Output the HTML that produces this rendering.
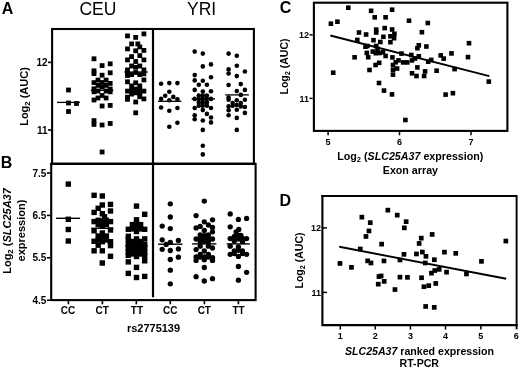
<!DOCTYPE html>
<html><head><meta charset="utf-8"><title>Figure</title>
<style>html,body{margin:0;padding:0;background:#fff}svg{display:block}</style></head>
<body>
<svg width="520" height="369" viewBox="0 0 520 369" font-family='"Liberation Sans", Arial, sans-serif' fill="#000">
<rect width="520" height="369" fill="#fff"/>
<g stroke="#000" fill="none" stroke-linecap="butt">
<rect x="52.1" y="29" width="201.8" height="134.9" stroke-width="2.1"/>
<rect x="51.2" y="163.9" width="204.4" height="136.2" stroke-width="2.1"/>
<line x1="50.2" y1="163.9" x2="255.8" y2="163.9" stroke-width="2.4"/>
<line x1="153" y1="29" x2="153" y2="297.3" stroke-width="2.2"/>
<line x1="48" y1="62.4" x2="51.2" y2="62.4" stroke-width="1.6"/>
<line x1="48" y1="130" x2="51.2" y2="130" stroke-width="1.6"/>
<line x1="46.9" y1="173" x2="50.3" y2="173" stroke-width="1.6"/>
<line x1="46.9" y1="215.4" x2="50.3" y2="215.4" stroke-width="1.6"/>
<line x1="46.9" y1="257.8" x2="50.3" y2="257.8" stroke-width="1.6"/>
<line x1="46.9" y1="300.2" x2="50.3" y2="300.2" stroke-width="1.6"/>
<line x1="68.4" y1="300.5" x2="68.4" y2="304.3" stroke-width="1.6"/>
<line x1="102.4" y1="300.5" x2="102.4" y2="304.3" stroke-width="1.6"/>
<line x1="136.3" y1="300.5" x2="136.3" y2="304.3" stroke-width="1.6"/>
<line x1="170.3" y1="300.5" x2="170.3" y2="304.3" stroke-width="1.6"/>
<line x1="204.4" y1="300.5" x2="204.4" y2="304.3" stroke-width="1.6"/>
<line x1="238.4" y1="300.5" x2="238.4" y2="304.3" stroke-width="1.6"/>
</g>
<g>
<line x1="57.0" y1="102.4" x2="80.0" y2="102.4" stroke="#000" stroke-width="1.3"/>
<line x1="90.8" y1="90.3" x2="113.4" y2="90.3" stroke="#000" stroke-width="1.3"/>
<line x1="124.3" y1="72.0" x2="147.8" y2="72.0" stroke="#000" stroke-width="1.3"/>
<line x1="158.1" y1="101.3" x2="181.4" y2="101.3" stroke="#000" stroke-width="1.3"/>
<line x1="191.6" y1="98.9" x2="215.0" y2="98.9" stroke="#000" stroke-width="1.3"/>
<line x1="225.2" y1="94.9" x2="248.9" y2="94.9" stroke="#000" stroke-width="1.3"/>
<line x1="56.1" y1="218.3" x2="80.1" y2="218.3" stroke="#000" stroke-width="1.4"/>
<line x1="91.2" y1="228.3" x2="113.4" y2="228.3" stroke="#000" stroke-width="1.4"/>
<line x1="125.3" y1="245.5" x2="147.7" y2="245.5" stroke="#000" stroke-width="1.4"/>
<line x1="158.1" y1="244.2" x2="182.5" y2="244.2" stroke="#000" stroke-width="1.4"/>
<line x1="192.1" y1="243.9" x2="216.4" y2="243.9" stroke="#000" stroke-width="1.4"/>
<line x1="226.6" y1="243.9" x2="249.8" y2="243.9" stroke="#000" stroke-width="1.4"/>
</g>
<g>
<rect x="66.1" y="87.6" width="4.8" height="4.8"/>
<rect x="66.1" y="100.6" width="4.8" height="4.8"/>
<rect x="74.1" y="101.1" width="4.8" height="4.8"/>
<rect x="66.1" y="109.1" width="4.8" height="4.8"/>
<rect x="91.6" y="56.4" width="4.8" height="4.8"/>
<rect x="91.6" y="68.4" width="4.8" height="4.8"/>
<rect x="91.6" y="71.2" width="4.8" height="4.8"/>
<rect x="91.6" y="80.2" width="4.8" height="4.8"/>
<rect x="91.6" y="86.4" width="4.8" height="4.8"/>
<rect x="91.6" y="89.4" width="4.8" height="4.8"/>
<rect x="91.6" y="97.6" width="4.8" height="4.8"/>
<rect x="91.6" y="118.2" width="4.8" height="4.8"/>
<rect x="91.6" y="122.0" width="4.8" height="4.8"/>
<rect x="95.6" y="77.7" width="4.8" height="4.8"/>
<rect x="95.6" y="83.0" width="4.8" height="4.8"/>
<rect x="95.6" y="88.6" width="4.8" height="4.8"/>
<rect x="95.6" y="95.6" width="4.8" height="4.8"/>
<rect x="99.7" y="63.2" width="4.8" height="4.8"/>
<rect x="99.7" y="72.8" width="4.8" height="4.8"/>
<rect x="99.7" y="80.1" width="4.8" height="4.8"/>
<rect x="99.7" y="84.6" width="4.8" height="4.8"/>
<rect x="99.7" y="93.1" width="4.8" height="4.8"/>
<rect x="99.7" y="103.6" width="4.8" height="4.8"/>
<rect x="99.7" y="122.6" width="4.8" height="4.8"/>
<rect x="99.7" y="149.6" width="4.8" height="4.8"/>
<rect x="103.7" y="77.7" width="4.8" height="4.8"/>
<rect x="103.7" y="83.0" width="4.8" height="4.8"/>
<rect x="103.7" y="88.6" width="4.8" height="4.8"/>
<rect x="103.7" y="95.6" width="4.8" height="4.8"/>
<rect x="107.8" y="61.4" width="4.8" height="4.8"/>
<rect x="107.8" y="70.4" width="4.8" height="4.8"/>
<rect x="107.8" y="81.0" width="4.8" height="4.8"/>
<rect x="107.8" y="86.6" width="4.8" height="4.8"/>
<rect x="107.8" y="89.4" width="4.8" height="4.8"/>
<rect x="107.8" y="103.0" width="4.8" height="4.8"/>
<rect x="107.8" y="121.1" width="4.8" height="4.8"/>
<rect x="125.1" y="33.5" width="4.8" height="4.8"/>
<rect x="125.1" y="46.5" width="4.8" height="4.8"/>
<rect x="125.1" y="57.5" width="4.8" height="4.8"/>
<rect x="125.1" y="67.5" width="4.8" height="4.8"/>
<rect x="125.1" y="70.5" width="4.8" height="4.8"/>
<rect x="125.1" y="73.1" width="4.8" height="4.8"/>
<rect x="125.1" y="79.4" width="4.8" height="4.8"/>
<rect x="125.1" y="88.7" width="4.8" height="4.8"/>
<rect x="125.1" y="94.8" width="4.8" height="4.8"/>
<rect x="125.1" y="96.9" width="4.8" height="4.8"/>
<rect x="129.2" y="41.5" width="4.8" height="4.8"/>
<rect x="129.2" y="54.2" width="4.8" height="4.8"/>
<rect x="129.2" y="63.6" width="4.8" height="4.8"/>
<rect x="129.2" y="72.2" width="4.8" height="4.8"/>
<rect x="129.2" y="83.5" width="4.8" height="4.8"/>
<rect x="129.2" y="87.6" width="4.8" height="4.8"/>
<rect x="129.2" y="91.7" width="4.8" height="4.8"/>
<rect x="133.3" y="35.0" width="4.8" height="4.8"/>
<rect x="133.3" y="48.4" width="4.8" height="4.8"/>
<rect x="133.3" y="59.1" width="4.8" height="4.8"/>
<rect x="133.3" y="64.9" width="4.8" height="4.8"/>
<rect x="133.3" y="70.1" width="4.8" height="4.8"/>
<rect x="133.3" y="80.4" width="4.8" height="4.8"/>
<rect x="133.3" y="86.6" width="4.8" height="4.8"/>
<rect x="133.3" y="90.4" width="4.8" height="4.8"/>
<rect x="133.3" y="99.6" width="4.8" height="4.8"/>
<rect x="133.3" y="110.4" width="4.8" height="4.8"/>
<rect x="137.4" y="44.5" width="4.8" height="4.8"/>
<rect x="137.4" y="53.2" width="4.8" height="4.8"/>
<rect x="137.4" y="63.6" width="4.8" height="4.8"/>
<rect x="137.4" y="72.2" width="4.8" height="4.8"/>
<rect x="137.4" y="83.5" width="4.8" height="4.8"/>
<rect x="137.4" y="87.6" width="4.8" height="4.8"/>
<rect x="137.4" y="91.7" width="4.8" height="4.8"/>
<rect x="137.4" y="94.3" width="4.8" height="4.8"/>
<rect x="141.5" y="31.5" width="4.8" height="4.8"/>
<rect x="141.5" y="48.0" width="4.8" height="4.8"/>
<rect x="141.5" y="57.5" width="4.8" height="4.8"/>
<rect x="141.5" y="67.5" width="4.8" height="4.8"/>
<rect x="141.5" y="71.4" width="4.8" height="4.8"/>
<rect x="141.5" y="77.5" width="4.8" height="4.8"/>
<rect x="141.5" y="88.7" width="4.8" height="4.8"/>
<rect x="141.5" y="96.5" width="4.8" height="4.8"/>
<rect x="135.4" y="41.5" width="4.8" height="4.8"/>
<circle cx="161.1" cy="83.7" r="2.3"/>
<circle cx="169.3" cy="83.1" r="2.3"/>
<circle cx="177.4" cy="83.1" r="2.3"/>
<circle cx="169.3" cy="91.8" r="2.3"/>
<circle cx="165.2" cy="95.8" r="2.3"/>
<circle cx="173.3" cy="96.9" r="2.3"/>
<circle cx="161.1" cy="98.9" r="2.3"/>
<circle cx="177.4" cy="99.3" r="2.3"/>
<circle cx="169.3" cy="100.3" r="2.3"/>
<circle cx="161.1" cy="107.5" r="2.3"/>
<circle cx="177.4" cy="108.0" r="2.3"/>
<circle cx="169.3" cy="110.7" r="2.3"/>
<circle cx="177.4" cy="122.7" r="2.3"/>
<circle cx="169.3" cy="126.8" r="2.3"/>
<circle cx="194.7" cy="51.6" r="2.3"/>
<circle cx="194.7" cy="75.1" r="2.3"/>
<circle cx="194.7" cy="80.4" r="2.3"/>
<circle cx="194.7" cy="89.9" r="2.3"/>
<circle cx="194.7" cy="98.9" r="2.3"/>
<circle cx="194.7" cy="108.0" r="2.3"/>
<circle cx="194.7" cy="115.2" r="2.3"/>
<circle cx="194.7" cy="119.3" r="2.3"/>
<circle cx="198.8" cy="84.8" r="2.3"/>
<circle cx="198.8" cy="95.6" r="2.3"/>
<circle cx="198.8" cy="98.9" r="2.3"/>
<circle cx="198.8" cy="102.4" r="2.3"/>
<circle cx="198.8" cy="105.7" r="2.3"/>
<circle cx="202.8" cy="53.6" r="2.3"/>
<circle cx="202.8" cy="66.4" r="2.3"/>
<circle cx="202.8" cy="80.7" r="2.3"/>
<circle cx="202.8" cy="91.5" r="2.3"/>
<circle cx="202.8" cy="95.6" r="2.3"/>
<circle cx="202.8" cy="98.9" r="2.3"/>
<circle cx="202.8" cy="102.4" r="2.3"/>
<circle cx="202.8" cy="105.7" r="2.3"/>
<circle cx="202.8" cy="110.1" r="2.3"/>
<circle cx="202.8" cy="120.5" r="2.3"/>
<circle cx="202.8" cy="129.9" r="2.3"/>
<circle cx="202.8" cy="145.7" r="2.3"/>
<circle cx="202.8" cy="154.4" r="2.3"/>
<circle cx="206.9" cy="84.8" r="2.3"/>
<circle cx="206.9" cy="95.6" r="2.3"/>
<circle cx="206.9" cy="98.9" r="2.3"/>
<circle cx="206.9" cy="102.4" r="2.3"/>
<circle cx="206.9" cy="105.7" r="2.3"/>
<circle cx="206.9" cy="113.9" r="2.3"/>
<circle cx="211.0" cy="64.4" r="2.3"/>
<circle cx="211.0" cy="77.2" r="2.3"/>
<circle cx="211.0" cy="91.3" r="2.3"/>
<circle cx="211.0" cy="98.9" r="2.3"/>
<circle cx="211.0" cy="108.0" r="2.3"/>
<circle cx="211.0" cy="117.5" r="2.3"/>
<circle cx="211.0" cy="122.4" r="2.3"/>
<circle cx="228.6" cy="53.6" r="2.3"/>
<circle cx="228.6" cy="69.4" r="2.3"/>
<circle cx="228.6" cy="73.5" r="2.3"/>
<circle cx="228.6" cy="85.0" r="2.3"/>
<circle cx="228.6" cy="97.6" r="2.3"/>
<circle cx="228.6" cy="99.7" r="2.3"/>
<circle cx="228.6" cy="106.4" r="2.3"/>
<circle cx="228.6" cy="110.2" r="2.3"/>
<circle cx="228.6" cy="115.2" r="2.3"/>
<circle cx="232.7" cy="103.0" r="2.3"/>
<circle cx="232.7" cy="105.7" r="2.3"/>
<circle cx="236.8" cy="55.8" r="2.3"/>
<circle cx="236.8" cy="65.8" r="2.3"/>
<circle cx="236.8" cy="76.1" r="2.3"/>
<circle cx="236.8" cy="91.1" r="2.3"/>
<circle cx="236.8" cy="100.3" r="2.3"/>
<circle cx="236.8" cy="105.0" r="2.3"/>
<circle cx="236.8" cy="109.8" r="2.3"/>
<circle cx="236.8" cy="117.9" r="2.3"/>
<circle cx="236.8" cy="129.9" r="2.3"/>
<circle cx="240.8" cy="84.1" r="2.3"/>
<circle cx="240.8" cy="94.9" r="2.3"/>
<circle cx="240.8" cy="103.0" r="2.3"/>
<circle cx="240.8" cy="106.4" r="2.3"/>
<circle cx="244.9" cy="71.5" r="2.3"/>
<circle cx="244.9" cy="89.9" r="2.3"/>
<circle cx="244.9" cy="99.7" r="2.3"/>
<circle cx="244.9" cy="107.0" r="2.3"/>
<circle cx="244.9" cy="112.9" r="2.3"/>
<rect x="65.6" y="181.4" width="5.4" height="5.4"/>
<rect x="65.6" y="216.6" width="5.4" height="5.4"/>
<rect x="65.6" y="226.8" width="5.4" height="5.4"/>
<rect x="65.6" y="238.3" width="5.4" height="5.4"/>
<rect x="91.4" y="192.6" width="5.4" height="5.4"/>
<rect x="91.4" y="209.7" width="5.4" height="5.4"/>
<rect x="91.4" y="218.9" width="5.4" height="5.4"/>
<rect x="91.4" y="228.1" width="5.4" height="5.4"/>
<rect x="91.4" y="238.6" width="5.4" height="5.4"/>
<rect x="91.4" y="248.1" width="5.4" height="5.4"/>
<rect x="95.5" y="205.6" width="5.4" height="5.4"/>
<rect x="95.5" y="217.6" width="5.4" height="5.4"/>
<rect x="95.5" y="221.9" width="5.4" height="5.4"/>
<rect x="95.5" y="233.3" width="5.4" height="5.4"/>
<rect x="95.5" y="237.3" width="5.4" height="5.4"/>
<rect x="95.5" y="242.5" width="5.4" height="5.4"/>
<rect x="99.6" y="193.3" width="5.4" height="5.4"/>
<rect x="99.6" y="202.3" width="5.4" height="5.4"/>
<rect x="99.6" y="211.0" width="5.4" height="5.4"/>
<rect x="99.6" y="218.3" width="5.4" height="5.4"/>
<rect x="99.6" y="222.8" width="5.4" height="5.4"/>
<rect x="99.6" y="230.3" width="5.4" height="5.4"/>
<rect x="99.6" y="235.1" width="5.4" height="5.4"/>
<rect x="99.6" y="239.0" width="5.4" height="5.4"/>
<rect x="99.6" y="248.1" width="5.4" height="5.4"/>
<rect x="99.6" y="260.3" width="5.4" height="5.4"/>
<rect x="103.7" y="217.6" width="5.4" height="5.4"/>
<rect x="103.7" y="221.9" width="5.4" height="5.4"/>
<rect x="103.7" y="233.3" width="5.4" height="5.4"/>
<rect x="103.7" y="237.3" width="5.4" height="5.4"/>
<rect x="107.8" y="201.7" width="5.4" height="5.4"/>
<rect x="107.8" y="208.3" width="5.4" height="5.4"/>
<rect x="107.8" y="218.9" width="5.4" height="5.4"/>
<rect x="107.8" y="227.3" width="5.4" height="5.4"/>
<rect x="107.8" y="239.0" width="5.4" height="5.4"/>
<rect x="107.8" y="242.9" width="5.4" height="5.4"/>
<rect x="107.8" y="253.6" width="5.4" height="5.4"/>
<rect x="101.8" y="214.1" width="5.4" height="5.4"/>
<rect x="125.6" y="226.6" width="5.4" height="5.4"/>
<rect x="125.6" y="233.6" width="5.4" height="5.4"/>
<rect x="125.6" y="237.1" width="5.4" height="5.4"/>
<rect x="125.6" y="241.8" width="5.4" height="5.4"/>
<rect x="125.6" y="245.8" width="5.4" height="5.4"/>
<rect x="125.6" y="249.3" width="5.4" height="5.4"/>
<rect x="125.6" y="252.6" width="5.4" height="5.4"/>
<rect x="125.6" y="259.2" width="5.4" height="5.4"/>
<rect x="125.6" y="270.7" width="5.4" height="5.4"/>
<rect x="129.7" y="221.9" width="5.4" height="5.4"/>
<rect x="129.7" y="226.2" width="5.4" height="5.4"/>
<rect x="129.7" y="238.8" width="5.4" height="5.4"/>
<rect x="129.7" y="243.3" width="5.4" height="5.4"/>
<rect x="129.7" y="247.3" width="5.4" height="5.4"/>
<rect x="129.7" y="251.3" width="5.4" height="5.4"/>
<rect x="133.8" y="203.4" width="5.4" height="5.4"/>
<rect x="133.8" y="217.1" width="5.4" height="5.4"/>
<rect x="133.8" y="220.6" width="5.4" height="5.4"/>
<rect x="133.8" y="224.9" width="5.4" height="5.4"/>
<rect x="133.8" y="228.8" width="5.4" height="5.4"/>
<rect x="133.8" y="236.2" width="5.4" height="5.4"/>
<rect x="133.8" y="240.8" width="5.4" height="5.4"/>
<rect x="133.8" y="245.3" width="5.4" height="5.4"/>
<rect x="133.8" y="249.3" width="5.4" height="5.4"/>
<rect x="133.8" y="253.8" width="5.4" height="5.4"/>
<rect x="133.8" y="264.7" width="5.4" height="5.4"/>
<rect x="133.8" y="274.8" width="5.4" height="5.4"/>
<rect x="137.9" y="221.9" width="5.4" height="5.4"/>
<rect x="137.9" y="226.2" width="5.4" height="5.4"/>
<rect x="137.9" y="238.8" width="5.4" height="5.4"/>
<rect x="137.9" y="243.3" width="5.4" height="5.4"/>
<rect x="137.9" y="247.3" width="5.4" height="5.4"/>
<rect x="137.9" y="251.3" width="5.4" height="5.4"/>
<rect x="142.0" y="211.6" width="5.4" height="5.4"/>
<rect x="142.0" y="226.6" width="5.4" height="5.4"/>
<rect x="142.0" y="236.2" width="5.4" height="5.4"/>
<rect x="142.0" y="241.8" width="5.4" height="5.4"/>
<rect x="142.0" y="245.8" width="5.4" height="5.4"/>
<rect x="142.0" y="249.8" width="5.4" height="5.4"/>
<rect x="142.0" y="253.3" width="5.4" height="5.4"/>
<rect x="142.0" y="258.1" width="5.4" height="5.4"/>
<rect x="142.0" y="273.7" width="5.4" height="5.4"/>
<circle cx="170.3" cy="203.8" r="2.65"/>
<circle cx="170.3" cy="217.0" r="2.65"/>
<circle cx="162.2" cy="226.1" r="2.65"/>
<circle cx="170.3" cy="228.6" r="2.65"/>
<circle cx="162.2" cy="239.8" r="2.65"/>
<circle cx="178.4" cy="240.4" r="2.65"/>
<circle cx="170.3" cy="242.4" r="2.65"/>
<circle cx="166.2" cy="244.4" r="2.65"/>
<circle cx="162.2" cy="249.3" r="2.65"/>
<circle cx="178.4" cy="248.9" r="2.65"/>
<circle cx="170.3" cy="250.5" r="2.65"/>
<circle cx="178.4" cy="257.2" r="2.65"/>
<circle cx="170.3" cy="259.5" r="2.65"/>
<circle cx="170.3" cy="270.2" r="2.65"/>
<circle cx="170.3" cy="283.8" r="2.65"/>
<circle cx="196.1" cy="215.6" r="2.65"/>
<circle cx="196.1" cy="227.9" r="2.65"/>
<circle cx="196.1" cy="239.0" r="2.65"/>
<circle cx="196.1" cy="249.6" r="2.65"/>
<circle cx="196.1" cy="257.0" r="2.65"/>
<circle cx="196.1" cy="260.4" r="2.65"/>
<circle cx="196.1" cy="276.7" r="2.65"/>
<circle cx="200.2" cy="226.4" r="2.65"/>
<circle cx="200.2" cy="234.9" r="2.65"/>
<circle cx="200.2" cy="238.5" r="2.65"/>
<circle cx="200.2" cy="241.5" r="2.65"/>
<circle cx="200.2" cy="246.2" r="2.65"/>
<circle cx="200.2" cy="254.3" r="2.65"/>
<circle cx="200.2" cy="257.0" r="2.65"/>
<circle cx="204.3" cy="201.1" r="2.65"/>
<circle cx="204.3" cy="221.8" r="2.65"/>
<circle cx="204.3" cy="230.5" r="2.65"/>
<circle cx="204.3" cy="235.6" r="2.65"/>
<circle cx="204.3" cy="239.0" r="2.65"/>
<circle cx="204.3" cy="241.5" r="2.65"/>
<circle cx="204.3" cy="251.0" r="2.65"/>
<circle cx="204.3" cy="257.0" r="2.65"/>
<circle cx="204.3" cy="259.7" r="2.65"/>
<circle cx="204.3" cy="267.5" r="2.65"/>
<circle cx="204.3" cy="281.0" r="2.65"/>
<circle cx="208.4" cy="225.0" r="2.65"/>
<circle cx="208.4" cy="234.9" r="2.65"/>
<circle cx="208.4" cy="238.5" r="2.65"/>
<circle cx="208.4" cy="241.5" r="2.65"/>
<circle cx="208.4" cy="246.2" r="2.65"/>
<circle cx="208.4" cy="254.3" r="2.65"/>
<circle cx="208.4" cy="257.0" r="2.65"/>
<circle cx="212.5" cy="219.8" r="2.65"/>
<circle cx="212.5" cy="227.5" r="2.65"/>
<circle cx="212.5" cy="231.8" r="2.65"/>
<circle cx="212.5" cy="239.0" r="2.65"/>
<circle cx="212.5" cy="248.0" r="2.65"/>
<circle cx="212.5" cy="257.7" r="2.65"/>
<circle cx="212.5" cy="260.4" r="2.65"/>
<circle cx="212.5" cy="278.7" r="2.65"/>
<circle cx="230.2" cy="213.9" r="2.65"/>
<circle cx="230.2" cy="226.8" r="2.65"/>
<circle cx="230.2" cy="238.6" r="2.65"/>
<circle cx="230.2" cy="246.2" r="2.65"/>
<circle cx="230.2" cy="254.3" r="2.65"/>
<circle cx="234.3" cy="236.3" r="2.65"/>
<circle cx="234.3" cy="241.0" r="2.65"/>
<circle cx="234.3" cy="251.0" r="2.65"/>
<circle cx="234.3" cy="253.7" r="2.65"/>
<circle cx="238.4" cy="219.4" r="2.65"/>
<circle cx="238.4" cy="235.4" r="2.65"/>
<circle cx="238.4" cy="239.0" r="2.65"/>
<circle cx="238.4" cy="246.9" r="2.65"/>
<circle cx="238.4" cy="250.3" r="2.65"/>
<circle cx="238.4" cy="256.4" r="2.65"/>
<circle cx="238.4" cy="266.5" r="2.65"/>
<circle cx="238.4" cy="280.2" r="2.65"/>
<circle cx="242.5" cy="238.3" r="2.65"/>
<circle cx="242.5" cy="241.7" r="2.65"/>
<circle cx="242.5" cy="251.0" r="2.65"/>
<circle cx="242.5" cy="253.7" r="2.65"/>
<circle cx="246.6" cy="218.4" r="2.65"/>
<circle cx="246.6" cy="238.6" r="2.65"/>
<circle cx="246.6" cy="254.3" r="2.65"/>
<circle cx="246.6" cy="272.3" r="2.65"/>
<circle cx="238.8" cy="229.5" r="2.65"/>
<circle cx="236.1" cy="231.8" r="2.65"/>
<circle cx="240.9" cy="235.3" r="2.65"/>
</g>
<text x="1.8" y="13.8" font-size="16" font-weight="bold" text-anchor="start" >A</text>
<text x="0.8" y="168.2" font-size="16" font-weight="bold" text-anchor="start" >B</text>
<text x="97.9" y="15.4" font-size="17.5" font-weight="normal" text-anchor="middle" >CEU</text>
<text x="201.6" y="15.4" font-size="17.5" font-weight="normal" text-anchor="middle" >YRI</text>
<text x="47.6" y="66" font-size="10" font-weight="bold" text-anchor="end" >12</text>
<text x="47.6" y="133.6" font-size="10" font-weight="bold" text-anchor="end" >11</text>
<text x="46.3" y="176.6" font-size="10" font-weight="bold" text-anchor="end" >7.5</text>
<text x="46.3" y="219.0" font-size="10" font-weight="bold" text-anchor="end" >6.5</text>
<text x="46.3" y="261.40000000000003" font-size="10" font-weight="bold" text-anchor="end" >5.5</text>
<text x="46.3" y="303.70000000000005" font-size="10" font-weight="bold" text-anchor="end" >4.5</text>
<text x="68.1" y="314" font-size="10" font-weight="bold" text-anchor="middle" >CC</text>
<text x="102.2" y="314" font-size="10" font-weight="bold" text-anchor="middle" >CT</text>
<text x="136.9" y="314" font-size="10" font-weight="bold" text-anchor="middle" >TT</text>
<text x="170.3" y="314" font-size="10" font-weight="bold" text-anchor="middle" >CC</text>
<text x="204.3" y="314" font-size="10" font-weight="bold" text-anchor="middle" >CT</text>
<text x="238.6" y="314" font-size="10" font-weight="bold" text-anchor="middle" >TT</text>
<text x="153.5" y="332.3" font-size="11" font-weight="bold" text-anchor="middle" >rs2775139</text>
<text transform="translate(28,96.5) rotate(-90)" font-size="11" font-weight="bold" text-anchor="middle">Log<tspan font-size="70%" dy="2">2</tspan><tspan dy="-2"> </tspan>(AUC)</text>
<text transform="translate(11,231) rotate(-90)" font-size="11" font-weight="bold" text-anchor="middle">Log<tspan font-size="70%" dy="2">2</tspan><tspan dy="-2"> </tspan>(<tspan font-style="italic">SLC25A37</tspan></text>
<text transform="translate(25.4,230.5) rotate(-90)" font-size="11" font-weight="bold" text-anchor="middle">expression)</text>
<rect x="313.9" y="2.7" width="193.5" height="128.2" fill="none" stroke="#000" stroke-width="2.1"/>
<g stroke="#000" stroke-width="1.5">
<line x1="309.5" y1="34.8" x2="312.7" y2="34.8"/>
<line x1="309.5" y1="98.4" x2="312.7" y2="98.4"/>
<line x1="328.1" y1="131.5" x2="328.1" y2="135.3"/>
<line x1="399.5" y1="131.5" x2="399.5" y2="135.3"/>
<line x1="471" y1="131.5" x2="471" y2="135.3"/>
</g>
<line x1="330.3" y1="35.5" x2="489.3" y2="76.1" stroke="#000" stroke-width="1.9"/>
<g>
<rect x="346.0" y="5.4" width="4.6" height="4.6"/>
<rect x="328.6" y="21.4" width="4.6" height="4.6"/>
<rect x="335.1" y="19.4" width="4.6" height="4.6"/>
<rect x="368.8" y="8.5" width="4.6" height="4.6"/>
<rect x="372.4" y="15.0" width="4.6" height="4.6"/>
<rect x="356.7" y="30.2" width="4.6" height="4.6"/>
<rect x="363.8" y="32.2" width="4.6" height="4.6"/>
<rect x="373.9" y="27.3" width="4.6" height="4.6"/>
<rect x="373.9" y="30.2" width="4.6" height="4.6"/>
<rect x="355.0" y="37.6" width="4.6" height="4.6"/>
<rect x="371.2" y="37.9" width="4.6" height="4.6"/>
<rect x="363.2" y="44.4" width="4.6" height="4.6"/>
<rect x="378.0" y="39.7" width="4.6" height="4.6"/>
<rect x="373.8" y="43.7" width="4.6" height="4.6"/>
<rect x="389.8" y="7.4" width="4.6" height="4.6"/>
<rect x="383.3" y="15.0" width="4.6" height="4.6"/>
<rect x="406.7" y="18.4" width="4.6" height="4.6"/>
<rect x="425.5" y="20.7" width="4.6" height="4.6"/>
<rect x="382.4" y="25.8" width="4.6" height="4.6"/>
<rect x="389.8" y="27.2" width="4.6" height="4.6"/>
<rect x="419.6" y="29.9" width="4.6" height="4.6"/>
<rect x="392.1" y="31.5" width="4.6" height="4.6"/>
<rect x="381.1" y="34.5" width="4.6" height="4.6"/>
<rect x="388.1" y="34.0" width="4.6" height="4.6"/>
<rect x="391.8" y="35.9" width="4.6" height="4.6"/>
<rect x="388.1" y="39.9" width="4.6" height="4.6"/>
<rect x="416.5" y="43.0" width="4.6" height="4.6"/>
<rect x="424.1" y="44.2" width="4.6" height="4.6"/>
<rect x="466.7" y="40.9" width="4.6" height="4.6"/>
<rect x="465.7" y="54.8" width="4.6" height="4.6"/>
<rect x="449.2" y="51.1" width="4.6" height="4.6"/>
<rect x="438.4" y="53.1" width="4.6" height="4.6"/>
<rect x="441.4" y="56.3" width="4.6" height="4.6"/>
<rect x="428.9" y="57.6" width="4.6" height="4.6"/>
<rect x="330.9" y="70.4" width="4.6" height="4.6"/>
<rect x="352.3" y="55.0" width="4.6" height="4.6"/>
<rect x="364.5" y="50.6" width="4.6" height="4.6"/>
<rect x="365.9" y="54.9" width="4.6" height="4.6"/>
<rect x="367.2" y="67.7" width="4.6" height="4.6"/>
<rect x="373.3" y="62.7" width="4.6" height="4.6"/>
<rect x="376.9" y="60.5" width="4.6" height="4.6"/>
<rect x="376.7" y="80.7" width="4.6" height="4.6"/>
<rect x="365.1" y="43.7" width="4.6" height="4.6"/>
<rect x="415.1" y="45.9" width="4.6" height="4.6"/>
<rect x="370.5" y="49.3" width="4.6" height="4.6"/>
<rect x="377.2" y="50.7" width="4.6" height="4.6"/>
<rect x="383.3" y="53.7" width="4.6" height="4.6"/>
<rect x="390.1" y="55.1" width="4.6" height="4.6"/>
<rect x="399.2" y="51.3" width="4.6" height="4.6"/>
<rect x="409.0" y="52.7" width="4.6" height="4.6"/>
<rect x="416.5" y="54.0" width="4.6" height="4.6"/>
<rect x="396.2" y="58.1" width="4.6" height="4.6"/>
<rect x="400.9" y="60.1" width="4.6" height="4.6"/>
<rect x="405.0" y="60.1" width="4.6" height="4.6"/>
<rect x="409.7" y="58.1" width="4.6" height="4.6"/>
<rect x="412.7" y="56.2" width="4.6" height="4.6"/>
<rect x="425.9" y="59.4" width="4.6" height="4.6"/>
<rect x="390.7" y="62.7" width="4.6" height="4.6"/>
<rect x="394.8" y="66.2" width="4.6" height="4.6"/>
<rect x="390.7" y="67.5" width="4.6" height="4.6"/>
<rect x="390.7" y="72.3" width="4.6" height="4.6"/>
<rect x="415.1" y="65.1" width="4.6" height="4.6"/>
<rect x="409.7" y="71.0" width="4.6" height="4.6"/>
<rect x="414.2" y="73.7" width="4.6" height="4.6"/>
<rect x="422.8" y="69.1" width="4.6" height="4.6"/>
<rect x="421.8" y="73.7" width="4.6" height="4.6"/>
<rect x="434.3" y="68.4" width="4.6" height="4.6"/>
<rect x="452.3" y="66.8" width="4.6" height="4.6"/>
<rect x="486.5" y="79.3" width="4.6" height="4.6"/>
<rect x="443.3" y="92.3" width="4.6" height="4.6"/>
<rect x="450.6" y="90.9" width="4.6" height="4.6"/>
<rect x="381.7" y="88.3" width="4.6" height="4.6"/>
<rect x="389.7" y="92.1" width="4.6" height="4.6"/>
<rect x="403.1" y="117.7" width="4.6" height="4.6"/>
<rect x="375.2" y="46.5" width="4.6" height="4.6"/>
<rect x="373.5" y="50.9" width="4.6" height="4.6"/>
<rect x="380.7" y="50.0" width="4.6" height="4.6"/>
<rect x="393.4" y="60.0" width="4.6" height="4.6"/>
</g>
<text x="279.8" y="13.4" font-size="16" font-weight="bold" text-anchor="start" >C</text>
<text x="309" y="38" font-size="9" font-weight="bold" text-anchor="end" >12</text>
<text x="309" y="101.6" font-size="9" font-weight="bold" text-anchor="end" >11</text>
<text x="328.1" y="145.2" font-size="9" font-weight="bold" text-anchor="middle" >5</text>
<text x="399.5" y="145.2" font-size="9" font-weight="bold" text-anchor="middle" >6</text>
<text x="471" y="145.2" font-size="9" font-weight="bold" text-anchor="middle" >7</text>
<text transform="translate(288.3,66.5) rotate(-90)" font-size="10.5" font-weight="bold" text-anchor="middle">Log<tspan font-size="70%" dy="2">2</tspan><tspan dy="-2"> </tspan>(AUC)</text>
<text x="410.3" y="160" font-size="10.7" font-weight="bold" text-anchor="middle">Log<tspan font-size="70%" dy="2">2</tspan><tspan dy="-2"> </tspan>(<tspan font-style="italic">SLC25A37</tspan> expression)</text>
<text x="410.4" y="174.4" font-size="10.7" font-weight="bold" text-anchor="middle" >Exon array</text>
<g stroke="#000" fill="none">
<polyline points="322.4,195 322.4,325.1 517.6,325.1" stroke-width="2.1"/>
<polyline points="321.4,196 516.6,196 516.6,329.3" stroke-width="1.9"/>
<line x1="323" y1="227.9" x2="327" y2="227.9" stroke-width="1.5"/>
<line x1="323" y1="292.4" x2="327" y2="292.4" stroke-width="1.5"/>
<line x1="340.3" y1="325" x2="340.3" y2="329.6" stroke-width="1.5"/>
<line x1="375.3" y1="325" x2="375.3" y2="329.6" stroke-width="1.5"/>
<line x1="410.4" y1="325" x2="410.4" y2="329.6" stroke-width="1.5"/>
<line x1="445.5" y1="325" x2="445.5" y2="329.6" stroke-width="1.5"/>
<line x1="480.9" y1="325" x2="480.9" y2="329.6" stroke-width="1.5"/>
</g>
<line x1="339.3" y1="246.8" x2="506.2" y2="278.8" stroke="#000" stroke-width="1.9"/>
<g>
<rect x="359.5" y="214.8" width="4.7" height="4.7"/>
<rect x="385.5" y="207.8" width="4.7" height="4.7"/>
<rect x="367.9" y="220.3" width="4.7" height="4.7"/>
<rect x="366.6" y="228.6" width="4.7" height="4.7"/>
<rect x="363.6" y="234.1" width="4.7" height="4.7"/>
<rect x="379.3" y="241.8" width="4.7" height="4.7"/>
<rect x="394.9" y="212.8" width="4.7" height="4.7"/>
<rect x="403.8" y="219.3" width="4.7" height="4.7"/>
<rect x="402.0" y="225.5" width="4.7" height="4.7"/>
<rect x="429.8" y="232.1" width="4.7" height="4.7"/>
<rect x="418.9" y="235.8" width="4.7" height="4.7"/>
<rect x="416.8" y="241.1" width="4.7" height="4.7"/>
<rect x="357.9" y="246.6" width="4.7" height="4.7"/>
<rect x="337.6" y="261.1" width="4.7" height="4.7"/>
<rect x="349.1" y="265.0" width="4.7" height="4.7"/>
<rect x="365.3" y="258.5" width="4.7" height="4.7"/>
<rect x="368.6" y="260.6" width="4.7" height="4.7"/>
<rect x="381.6" y="258.6" width="4.7" height="4.7"/>
<rect x="376.6" y="274.2" width="4.7" height="4.7"/>
<rect x="378.8" y="273.6" width="4.7" height="4.7"/>
<rect x="381.8" y="279.0" width="4.7" height="4.7"/>
<rect x="375.9" y="281.8" width="4.7" height="4.7"/>
<rect x="401.6" y="252.0" width="4.7" height="4.7"/>
<rect x="414.1" y="251.6" width="4.7" height="4.7"/>
<rect x="420.0" y="249.7" width="4.7" height="4.7"/>
<rect x="423.6" y="254.0" width="4.7" height="4.7"/>
<rect x="442.1" y="249.8" width="4.7" height="4.7"/>
<rect x="432.0" y="257.4" width="4.7" height="4.7"/>
<rect x="397.6" y="257.6" width="4.7" height="4.7"/>
<rect x="422.9" y="260.6" width="4.7" height="4.7"/>
<rect x="436.8" y="267.0" width="4.7" height="4.7"/>
<rect x="432.4" y="268.2" width="4.7" height="4.7"/>
<rect x="429.1" y="270.8" width="4.7" height="4.7"/>
<rect x="444.2" y="269.8" width="4.7" height="4.7"/>
<rect x="397.6" y="274.8" width="4.7" height="4.7"/>
<rect x="405.1" y="275.0" width="4.7" height="4.7"/>
<rect x="419.2" y="275.4" width="4.7" height="4.7"/>
<rect x="433.4" y="281.1" width="4.7" height="4.7"/>
<rect x="426.4" y="283.3" width="4.7" height="4.7"/>
<rect x="421.6" y="284.4" width="4.7" height="4.7"/>
<rect x="392.6" y="287.2" width="4.7" height="4.7"/>
<rect x="423.3" y="304.1" width="4.7" height="4.7"/>
<rect x="431.9" y="305.0" width="4.7" height="4.7"/>
<rect x="503.5" y="238.7" width="4.7" height="4.7"/>
<rect x="453.4" y="251.0" width="4.7" height="4.7"/>
<rect x="479.1" y="259.0" width="4.7" height="4.7"/>
<rect x="464.1" y="271.6" width="4.7" height="4.7"/>
</g>
<text x="279.6" y="206.2" font-size="16" font-weight="bold" text-anchor="start" >D</text>
<text x="321" y="231.1" font-size="9" font-weight="bold" text-anchor="end" >12</text>
<text x="321" y="295.6" font-size="9" font-weight="bold" text-anchor="end" >11</text>
<text x="340.3" y="339.2" font-size="9" font-weight="bold" text-anchor="middle" >1</text>
<text x="375.3" y="339.2" font-size="9" font-weight="bold" text-anchor="middle" >2</text>
<text x="410.4" y="339.2" font-size="9" font-weight="bold" text-anchor="middle" >3</text>
<text x="445.5" y="339.2" font-size="9" font-weight="bold" text-anchor="middle" >4</text>
<text x="480.7" y="339.2" font-size="9" font-weight="bold" text-anchor="middle" >5</text>
<text x="516.3" y="339.2" font-size="9" font-weight="bold" text-anchor="middle" >6</text>
<text transform="translate(302.5,260.5) rotate(-90)" font-size="10.5" font-weight="bold" text-anchor="middle">Log<tspan font-size="70%" dy="2">2</tspan><tspan dy="-2"> </tspan>(AUC)</text>
<text x="419.5" y="355" font-size="10.6" font-weight="bold" text-anchor="middle"><tspan font-style="italic">SLC25A37</tspan> ranked expression</text>
<text x="419.3" y="367.4" font-size="10.6" font-weight="bold" text-anchor="middle" >RT-PCR</text>
</svg>
</body></html>
